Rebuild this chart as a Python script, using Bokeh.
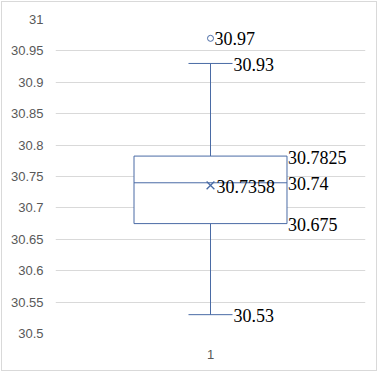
from bokeh.plotting import figure
from bokeh.models import Range1d, FixedTicker, ColumnDataSource
from bokeh.core.properties import value
from bokeh.embed import file_html
from bokeh.resources import INLINE

# ---- data ----
category = [1]
category_labels = {1: "1"}
minimum = [30.53]
q1 = [30.675]
median = [30.74]
q3 = [30.7825]
maximum = [30.93]
mean = [30.7358]
outliers = [30.97]
y_ticks = [30.5, 30.55, 30.6, 30.65, 30.7, 30.75, 30.8, 30.85, 30.9, 30.95, 31.0]
y_tick_labels = ["30.5", "30.55", "30.6", "30.65", "30.7", "30.75", "30.8",
                 "30.85", "30.9", "30.95", "31"]

BLUE = "#4a6ba5"
BOX_HALF = 0.4935
CAP_HALF = 0.142

p = figure(width=374, height=368, output_backend="svg", toolbar_location=None,
           x_range=Range1d(0, 2), y_range=Range1d(30.5, 31.0),
           min_border_left=53, min_border_right=11, min_border_top=17,
           min_border_bottom=37, margin=(2, 0, 0, 2),
           background_fill_color="white", border_fill_color="white",
           outline_line_color=None,
           styles={"outline": "1px solid #d9d9d9"})

# grid
p.xgrid.grid_line_color = None
p.ygrid.grid_line_color = "#d9d9d9"
p.ygrid.grid_line_width = 1

# axes
p.yaxis.ticker = FixedTicker(ticks=y_ticks)
p.yaxis.major_label_overrides = {t: l for t, l in zip(y_ticks, y_tick_labels)}
p.yaxis.axis_line_color = None
p.yaxis.major_tick_line_color = None
p.yaxis.minor_tick_line_color = None
p.yaxis.major_tick_out = 0
p.yaxis.major_tick_in = 0
p.yaxis.major_label_text_font = "Liberation Sans"
p.yaxis.major_label_text_font_size = "13px"
p.yaxis.major_label_text_color = "#595959"
p.yaxis.major_label_standoff = 12

p.xaxis.ticker = FixedTicker(ticks=category)
p.xaxis.major_label_overrides = category_labels
p.xaxis.axis_line_color = None
p.xaxis.major_tick_line_color = None
p.xaxis.minor_tick_line_color = None
p.xaxis.major_tick_out = 0
p.xaxis.major_tick_in = 0
p.xaxis.major_label_text_font = "Liberation Sans"
p.xaxis.major_label_text_font_size = "13px"
p.xaxis.major_label_text_color = "#595959"
p.xaxis.major_label_standoff = 16

src = ColumnDataSource(dict(
    x=category,
    box_l=[c - BOX_HALF for c in category],
    box_r=[c + BOX_HALF for c in category],
    cap_l=[c - CAP_HALF for c in category],
    cap_r=[c + CAP_HALF for c in category],
    mn=minimum, q1=q1, med=median, q3=q3, mx=maximum, mean=mean,
))

# whiskers
p.segment(x0="x", y0="q3", x1="x", y1="mx", source=src, line_color=BLUE, line_width=1)
p.segment(x0="x", y0="mn", x1="x", y1="q1", source=src, line_color=BLUE, line_width=1)
p.segment(x0="cap_l", y0="mx", x1="cap_r", y1="mx", source=src, line_color=BLUE, line_width=1)
p.segment(x0="cap_l", y0="mn", x1="cap_r", y1="mn", source=src, line_color=BLUE, line_width=1)
# box
p.quad(left="box_l", right="box_r", bottom="q1", top="q3", source=src,
       fill_color="white", line_color=BLUE, line_width=1)
p.segment(x0="box_l", y0="med", x1="box_r", y1="med", source=src, line_color=BLUE, line_width=1)
# mean marker
p.scatter(x="x", y="mean", source=src, marker="x", size=11, line_color=BLUE, line_width=1.3)
# outliers
p.scatter(x=[category[0]] * len(outliers), y=outliers, marker="circle", size=6,
          fill_color="white", line_color=BLUE, line_width=1)

# data labels
lab_font = value("Liberation Serif")
fmt = lambda v: ("%g" % v)
p.text(x=[category[0]] * len(outliers), y=outliers, text=[fmt(v) for v in outliers],
       x_offset=4, text_font=lab_font, text_font_size="18px", text_baseline="middle",
       text_color="black")
p.text(x=src.data["cap_r"] * 2, y=maximum + minimum, text=[fmt(v) for v in maximum + minimum],
       x_offset=1, y_offset=1, text_font=lab_font, text_font_size="18px", text_baseline="middle",
       text_color="black")
p.text(x=src.data["box_r"] * 3, y=q3 + median + q1,
       text=[fmt(v) for v in q3 + median + q1],
       x_offset=1, y_offset=1, text_font=lab_font, text_font_size="18px", text_baseline="middle",
       text_color="black")
p.text(x=category, y=mean, text=[fmt(v) for v in mean],
       x_offset=6, y_offset=1, text_font=lab_font, text_font_size="18px", text_baseline="middle",
       text_color="black")

open("out.html", "w").write(file_html(p, INLINE))
